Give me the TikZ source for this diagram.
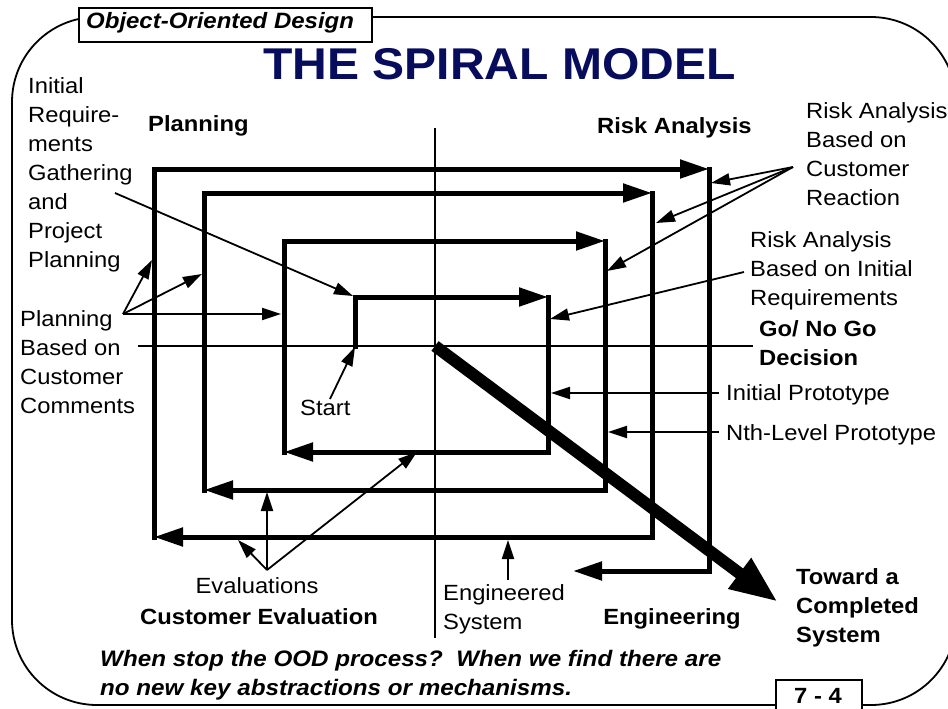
\documentclass[tikz,border=0pt]{standalone}
\usepackage{fontspec}
\setmainfont[FakeStretch=1.08]{Liberation Sans}
\usetikzlibrary{arrows.meta}
\definecolor{navy}{RGB}{8,12,92}
\begin{document}
\begin{tikzpicture}[x=1pt,y=-1pt,
  lbl/.style={inner sep=0pt, font=\fontsize{22}{29}\selectfont, align=left},
  blbl/.style={inner sep=0pt, font=\fontsize{22}{29}\selectfont\bfseries, align=left},
  spiral/.style={line width=5pt, line cap=rect},
  sparrow/.style={line width=5pt, line cap=rect, -{Triangle[length=29pt,width=18pt]}},
  thin/.style={line width=1.8pt},
  note/.style={line width=1.8pt, -{Triangle[length=19pt,width=12pt]}},
  box/.style={draw, line width=1.8pt, fill=white, inner sep=0pt, anchor=north west}]
\useasboundingbox (0,0) rectangle (948,709);
\clip (0,0) rectangle (948,709);
% frame
\draw[line width=1.8pt, rounded corners=85pt] (12,17) rectangle (956,705);
\node (tab) [box, minimum width=293pt, minimum height=34pt] at (78,7) {};
\node (tabtext) [anchor=base west, inner sep=0pt, font=\fontsize{22.2}{26}\selectfont\bfseries\itshape] at (86,29) {Object-Oriented Design};
\node (pagebox) [box, minimum width=86pt, minimum height=36pt] at (775,679) {};
\node (pagenum) [anchor=base, inner sep=0pt, font=\fontsize{22}{26}\selectfont\bfseries] at (818,703) {7 - 4};
% title
\node (title) [anchor=base west, inner sep=0pt, text=navy, font=\fontsize{44.5}{50}\selectfont\bfseries] at (263,80) {THE SPIRAL MODEL};
% axes
\coordinate (axT) at (435,128);
\coordinate (axB) at (435,638);
\coordinate (axL) at (138,346);
\coordinate (axR) at (753,346);
\draw[thin] (axT) -- (axB);
\draw[thin] (axL) -- (axR);
% spiral corners
\coordinate (c0) at (355,346);
\coordinate (c1) at (355,297);
\coordinate (c2) at (548,297);
\coordinate (c3) at (548,452);
\coordinate (c4) at (284,452);
\coordinate (c5) at (284,241);
\coordinate (c6) at (605,241);
\coordinate (c7) at (605,490);
\coordinate (c8) at (204,490);
\coordinate (c9) at (204,193);
\coordinate (c10) at (652,193);
\coordinate (c11) at (652,537);
\coordinate (c12) at (154,537);
\coordinate (c13) at (154,169);
\coordinate (c14) at (709,169);
\coordinate (c15) at (709,571);
\coordinate (c16) at (573,571);
\draw[spiral] (c0) -- (c1);
\draw[sparrow] (c1) -- (c2);
\draw[spiral] (c2) -- (c3);
\draw[sparrow] (c3) -- (c4);
\draw[spiral] (c4) -- (c5);
\draw[sparrow] (c5) -- (c6);
\draw[spiral] (c6) -- (c7);
\draw[sparrow] (c7) -- (c8);
\draw[spiral] (c8) -- (c9);
\draw[sparrow] (c9) -- (c10);
\draw[spiral] (c10) -- (c11);
\draw[sparrow] (c11) -- (c12);
\draw[spiral] (c12) -- (c13);
\draw[sparrow] (c13) -- (c14);
\draw[spiral] (c14) -- (c15);
\draw[sparrow] (c15) -- (c16);
% diagonal
\coordinate (org) at (435,346);
\coordinate (tw) at (778,602);
\draw[line width=12pt, -{Triangle[length=48pt,width=35pt]}] (org) -- (tw);
% quadrant labels
\node (planning) [blbl, anchor=base west] at (148,131) {Planning};
\node (risk) [blbl, anchor=base west] at (597,133) {Risk Analysis};
\node (custeval) [blbl, anchor=base] at (259,624) {Customer Evaluation};
\node (eng) [blbl, anchor=base] at (672,624) {Engineering};
% annotations
\node (initreq) [lbl, anchor=north west] at (28,77) {Initial\\Require-\\ments\\Gathering\\and\\Project\\Planning};
\coordinate (irS) at (115,193);
\coordinate (irE) at (353,296);
\draw[note] (irS) -- (irE);
\node (planbased) [lbl, anchor=north west] at (20,310) {Planning\\Based on\\Customer\\Comments};
\coordinate (pbS) at (123,314);
\coordinate (pbE1) at (152,260);
\coordinate (pbE2) at (202,274);
\coordinate (pbE3) at (281,314);
\draw[note] (pbS) -- (pbE1);
\draw[note] (pbS) -- (pbE2);
\draw[note] (pbS) -- (pbE3);
\node (start) [lbl, anchor=base west] at (300,415) {Start};
\coordinate (stS) at (330,399);
\coordinate (stE) at (355,347);
\draw[note] (stS) -- (stE);
\node (rareact) [lbl, anchor=north west] at (806,102) {Risk Analysis\\Based on\\Customer\\Reaction};
\coordinate (rrS) at (793,167);
\coordinate (rrE1) at (711,183);
\coordinate (rrE2) at (656,223);
\coordinate (rrE3) at (607,271);
\draw[note] (rrS) -- (rrE1);
\draw[note] (rrS) -- (rrE2);
\draw[note] (rrS) -- (rrE3);
\node (rainit) [lbl, anchor=north west] at (750,231) {Risk Analysis\\Based on Initial\\Requirements};
\coordinate (riS) at (744,272);
\coordinate (riE) at (550,319);
\draw[note] (riS) -- (riE);
\node (gonogo) [blbl, anchor=north west] at (759,320) {Go/ No Go\\Decision};
\node (initproto) [lbl, anchor=base west] at (726,400) {Initial Prototype};
\coordinate (ipS) at (719,393);
\coordinate (ipE) at (551,393);
\draw[note] (ipS) -- (ipE);
\node (nthproto) [lbl, anchor=base west] at (726,440) {Nth-Level Prototype};
\coordinate (npS) at (719,432);
\coordinate (npE) at (608,432);
\draw[note] (npS) -- (npE);
\node (evals) [lbl, anchor=base] at (257,593) {Evaluations};
\coordinate (evS) at (267,570);
\coordinate (evE1) at (238,540);
\coordinate (evE2) at (267,492);
\coordinate (evE3) at (417,452);
\draw[note] (evS) -- (evE1);
\draw[note] (evS) -- (evE2);
\draw[note] (evS) -- (evE3);
\node (engsys) [lbl, anchor=north west] at (443,584) {Engineered\\System};
\coordinate (esS) at (508,580);
\coordinate (esE) at (508,540);
\draw[note] (esS) -- (esE);
\node (toward) [blbl, anchor=north west] at (796,568) {Toward a\\Completed\\System};
\node (question) [blbl, anchor=north west, font=\fontsize{22.4}{29}\selectfont\bfseries\itshape] at (100,650) {When stop the OOD process?\ \ When we find there are\\no new key abstractions or mechanisms.};
\end{tikzpicture}
\end{document}
